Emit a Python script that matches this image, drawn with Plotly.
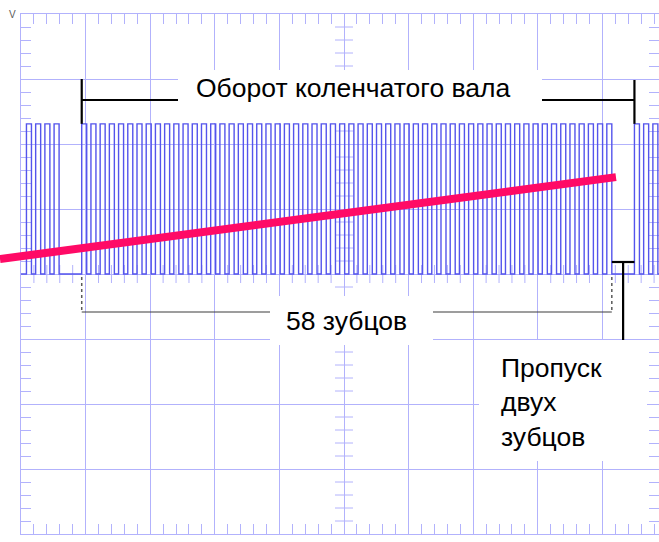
import plotly.graph_objects as go

# ---------------- figure / screen geometry (pixels) ----------------
W, H = 659, 542
PX_LEFT, PX_TOP, PX_BOTTOM = 21, 14, 534
PX_PER_DIV_X = 64.6
PX_PER_DIV_Y = 65.0
N_DIV_Y = 8

# ---------------- signal data (in screen divisions) ----------------
TEETH_PER_REV = 60          # 60-2 trigger wheel
MISSING_TEETH = 2
TOOTH_PERIOD = 0.1426       # one tooth period, divisions
TOOTH_HIGH = 0.0774         # high part of one tooth, divisions
FIRST_TOOTH = 0.94          # rising edge of the first tooth after the gap
HIGH_LEVEL = 2.31
LOW_LEVEL = 0.0
revolutions = [-1, 0, 1]

# magenta ramp line
ramp_x = [-0.325, 9.21]
ramp_y = [0.23, 1.49]

# texts
label_rev = "Оборот коленчатого вала"
label_teeth = "58 зубцов"
label_gap = "Пропуск<br>двух<br>зубцов"
label_unit = "V"

GRID = "rgb(178,178,252)"
WAVE = "rgb(84,84,236)"
RAMP = "#FF0A66"
FONT = "Liberation Sans, Arial, sans-serif"

x_max = (W - PX_LEFT) / PX_PER_DIV_X
half_y = N_DIV_Y / 2
center_px = PX_TOP + half_y * PX_PER_DIV_Y

# ---------------- build the square wave ----------------
wx, wy = [0.0], [LOW_LEVEL]
teeth_present = TEETH_PER_REV - MISSING_TEETH
for rev in revolutions:
    for k in range(teeth_present):
        rise = FIRST_TOOTH + (rev * TEETH_PER_REV + k) * TOOTH_PERIOD
        fall = rise + TOOTH_HIGH
        if rise < 0 or rise > x_max:
            continue
        f = min(fall, x_max)
        wx += [rise, rise, f, f]
        wy += [LOW_LEVEL, HIGH_LEVEL, HIGH_LEVEL, LOW_LEVEL if fall <= x_max else HIGH_LEVEL]
if wx[-1] < x_max and wy[-1] == LOW_LEVEL:
    wx.append(x_max)
    wy.append(LOW_LEVEL)

fig = go.Figure()
# grid subplot carrier (invisible trace)
fig.add_trace(go.Scatter(x=[0], y=[0], mode="markers", marker=dict(opacity=0),
                         hoverinfo="skip", showlegend=False, xaxis="x", yaxis="y"))
# wave and ramp on full-figure overlay axes
fig.add_trace(go.Scatter(x=wx, y=wy, mode="lines", line=dict(color=WAVE, width=1.4),
                         hoverinfo="skip", showlegend=False, xaxis="x2", yaxis="y2"))
fig.add_trace(go.Scatter(x=ramp_x, y=ramp_y, mode="lines", line=dict(color=RAMP, width=8),
                         hoverinfo="skip", showlegend=False, xaxis="x2", yaxis="y2"))

axis_common = dict(showgrid=True, gridcolor=GRID, gridwidth=1, tick0=0, dtick=1,
                   ticks="", showticklabels=False, zeroline=False,
                   showline=True, linecolor=GRID, linewidth=1, mirror="allticks",
                   minor=dict(ticks="inside", tick0=0, dtick=0.2, ticklen=10,
                              tickcolor=GRID, tickwidth=1, showgrid=False),
                   fixedrange=True)

fig.update_layout(
    width=W, height=H, autosize=False,
    margin=dict(l=0, r=0, t=0, b=0, pad=0),
    paper_bgcolor="white", plot_bgcolor="rgba(0,0,0,0)",
    font=dict(family=FONT, size=26, color="black"),
    xaxis=dict(domain=[PX_LEFT / W, 1], range=[0, x_max], anchor="y", **axis_common),
    yaxis=dict(domain=[(H - PX_BOTTOM) / H, (H - PX_TOP) / H], range=[-half_y, half_y],
               anchor="x", **axis_common),
    xaxis2=dict(domain=[0, 1], range=[-PX_LEFT / PX_PER_DIV_X, x_max], anchor="y2",
                visible=False, fixedrange=True),
    yaxis2=dict(domain=[0, 1], range=[(center_px - H) / PX_PER_DIV_Y, center_px / PX_PER_DIV_Y],
                anchor="x2", visible=False, fixedrange=True),
)

shapes = []
# crossing ticks on the centre lines
tick_hx = 9 / PX_PER_DIV_X
tick_hy = 9 / PX_PER_DIV_Y
for i in range(int(x_max / 0.2) + 1):
    xv = i * 0.2
    if abs(xv - round(xv)) < 1e-6:
        continue
    shapes.append(dict(type="line", xref="x", yref="y", x0=xv, x1=xv, y0=-tick_hy, y1=tick_hy,
                       line=dict(color=GRID, width=1), layer="below"))
for i in range(int(-half_y / 0.2), int(half_y / 0.2) + 1):
    yv = i * 0.2
    if abs(yv - round(yv)) < 1e-6:
        continue
    shapes.append(dict(type="line", xref="x", yref="y", x0=5 - tick_hx, x1=5 + tick_hx, y0=yv, y1=yv,
                       line=dict(color=GRID, width=1), layer="below"))


def px_x(p):
    return (p - PX_LEFT) / PX_PER_DIV_X


def px_y(p):
    return (center_px - p) / PX_PER_DIV_Y


# white label boxes
for (x0, x1, y0, y1) in [(178, 542, 70, 123), (270, 433, 296, 345), (479, 647, 340, 461)]:
    shapes.append(dict(type="rect", xref="x", yref="y", x0=px_x(x0), x1=px_x(x1),
                       y0=px_y(y1), y1=px_y(y0), fillcolor="white",
                       line=dict(width=0), layer="above"))

rev_end = FIRST_TOOTH + TEETH_PER_REV * TOOTH_PERIOD
last_fall = FIRST_TOOTH + (teeth_present - 1) * TOOTH_PERIOD + TOOTH_HIGH
brk = dict(color="black", width=2.2)
y_rev = px_y(100)
# revolution bracket
shapes += [
    dict(type="line", xref="x", yref="y", x0=FIRST_TOOTH, x1=FIRST_TOOTH, y0=HIGH_LEVEL, y1=3.0, line=brk, layer="above"),
    dict(type="line", xref="x", yref="y", x0=FIRST_TOOTH, x1=px_x(178), y0=y_rev, y1=y_rev, line=brk, layer="above"),
    dict(type="line", xref="x", yref="y", x0=px_x(542), x1=rev_end, y0=y_rev, y1=y_rev, line=brk, layer="above"),
    dict(type="line", xref="x", yref="y", x0=rev_end, x1=rev_end, y0=HIGH_LEVEL, y1=px_y(80), line=brk, layer="above"),
]
# 58 teeth bracket
y_t = px_y(312)
thin = dict(color="rgb(60,60,60)", width=1.2)
dash = dict(color="rgb(90,90,90)", width=1.5, dash="dot")
shapes += [
    dict(type="line", xref="x", yref="y", x0=FIRST_TOOTH, x1=FIRST_TOOTH, y0=px_y(277), y1=y_t, line=dash, layer="above"),
    dict(type="line", xref="x", yref="y", x0=last_fall, x1=last_fall, y0=px_y(277), y1=y_t, line=dash, layer="above"),
    dict(type="line", xref="x", yref="y", x0=FIRST_TOOTH, x1=px_x(270), y0=y_t, y1=y_t, line=thin, layer="above"),
    dict(type="line", xref="x", yref="y", x0=px_x(433), x1=last_fall, y0=y_t, y1=y_t, line=thin, layer="above"),
]
# missing teeth bracket
y_g = px_y(262)
gx = (last_fall + rev_end) / 2
shapes += [
    dict(type="line", xref="x", yref="y", x0=last_fall, x1=rev_end, y0=y_g, y1=y_g, line=brk, layer="above"),
    dict(type="line", xref="x", yref="y", x0=gx, x1=gx, y0=y_g, y1=px_y(340), line=brk, layer="above"),
]
fig.update_layout(shapes=shapes)

fig.update_layout(annotations=[
    dict(text=label_rev, xref="x", yref="y", x=px_x(353.5), y=px_y(88), showarrow=False,
         xanchor="center", yanchor="middle", font=dict(size=26.5, color="black", family=FONT)),
    dict(text=label_teeth, xref="x", yref="y", x=px_x(346.5), y=px_y(320.5), showarrow=False,
         xanchor="center", yanchor="middle", font=dict(size=26.5, color="black", family=FONT)),
    dict(text=label_gap, xref="x", yref="y", x=px_x(499), y=px_y(402), showarrow=False,
         xanchor="left", yanchor="middle", align="left",
         font=dict(size=26.5, color="black", family=FONT)),
    dict(text=label_unit, xref="paper", yref="paper", x=12.5 / W, y=1 - 14.5 / H, showarrow=False,
         xanchor="center", yanchor="middle", font=dict(size=10, color="rgb(90,90,90)", family=FONT)),
])

fig.write_html("out.html", config={"displayModeBar": False},
               post_script="document.body.style.margin='0';document.body.style.overflow='hidden';")
